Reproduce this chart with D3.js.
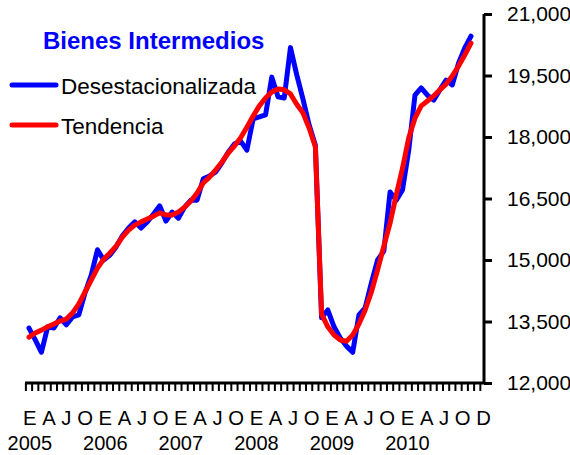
<!DOCTYPE html>
<html>
<head>
<meta charset="utf-8">
<script src="https://cdn.jsdelivr.net/npm/d3@7/dist/d3.min.js"></script>
<style>
  html, body { margin: 0; padding: 0; background: #fff; }
  svg { display: block; font-family: "Liberation Sans", Arial, sans-serif; }
</style>
</head>
<body>
<svg id="chart" width="570" height="455"></svg>
<script>
// ---- Data ----
const years = ["2005", "2006", "2007", "2008", "2009", "2010"];
const months = [];
years.forEach(y => { for (let m = 1; m <= 12; m++) months.push(y + "-" + String(m).padStart(2, "0")); });

const quarterLabels = ["E","A","J","O","E","A","J","O","E","A","J","O","E","A","J","O","E","A","J","O","E","A","J","O","D"];
const yTicks = [12000, 13500, 15000, 16500, 18000, 19500, 21000];

const desestacionalizada = [
  13340, 13050, 12750, 13370, 13340, 13590, 13420, 13610, 13660, 14200, 14630, 15250,
  15000, 15120, 15320, 15590, 15780, 15930, 15780, 15930, 16120, 16320, 15950, 16170,
  16020, 16290, 16460, 16460, 16980, 17050, 17150, 17370, 17630, 17830, 17900, 17680,
  18440, 18490, 18540, 19460, 18980, 18950, 20180, 19520, 18930, 18290, 17800, 13590,
  13780, 13370, 13100, 12900, 12750, 13660, 13830, 14440, 15000, 15220, 16660, 16460,
  16710, 17680, 19020, 19200, 19020, 18900, 19150, 19390, 19270, 19800, 20170, 20460
];
const tendencia = [
  13120, 13220, 13290, 13370, 13440, 13510, 13560, 13710, 13930, 14220, 14510, 14800,
  15020, 15170, 15340, 15560, 15730, 15850, 15930, 16000, 16070, 16150, 16100, 16100,
  16170, 16290, 16440, 16630, 16880, 17020, 17200, 17390, 17610, 17780, 17980, 18240,
  18510, 18760, 18950, 19100, 19170, 19150, 19050, 18800, 18590, 18220, 17760, 13680,
  13370, 13170, 13050, 13020, 13170, 13440, 13780, 14220, 14760, 15340, 15900, 16590,
  17240, 17980, 18460, 18760, 18880, 19000, 19150, 19290, 19490, 19730, 20000, 20290
];

const seriesNames = ["Desestacionalizada", "Tendencia"];
const seriesColors = ["#0000FF", "#FF0000"];
const title = "Bienes Intermedios";

// ---- Scales ----
const svg = d3.select("#chart");
const x = d3.scalePoint().domain(months).range([29, 471]);
const y = d3.scaleLinear().domain([12000, 21000]).range([383, 14]);
const step = x.step();

// ---- Axes ----
// X axis line and monthly tick marks (between categories)
const xAxisG = svg.append("g");
xAxisG.append("line")
  .attr("x1", 25).attr("x2", 485)
  .attr("y1", y(12000)).attr("y2", y(12000))
  .attr("stroke", "#000").attr("stroke-width", 3);
const tickPos = [];
for (let b = x(months[0]) - step / 2; b <= 484; b += step) tickPos.push(b);
xAxisG.selectAll("line.tk").data(tickPos).enter().append("line")
  .attr("class", "tk")
  .attr("x1", d => d).attr("x2", d => d)
  .attr("y1", y(12000)).attr("y2", y(12000) + 8)
  .attr("stroke", "#000").attr("stroke-width", 2);

// Y axis on the right
const yAxis = d3.axisRight(y).tickValues(yTicks).tickSize(8).tickPadding(15)
  .tickFormat(d3.format(","));
const yAxisG = svg.append("g").attr("transform", "translate(484,0)").call(yAxis);
yAxisG.select(".domain").attr("stroke", "#000").attr("stroke-width", 3)
  .attr("d", `M0,${y(21000)}V${y(12000)}`);
yAxisG.selectAll(".tick line").attr("stroke", "#000").attr("stroke-width", 3);
yAxisG.selectAll(".tick text")
  .attr("fill", "#000")
  .style("font-size", "21px")
  .style("font-family", "'Liberation Sans', Arial, sans-serif");

// ---- Lines ----
const line = d3.line().x((d, i) => x(months[i])).y(d => y(d));
[desestacionalizada, tendencia].forEach((s, k) => {
  svg.append("path")
    .datum(s)
    .attr("d", line)
    .attr("fill", "none")
    .attr("stroke", seriesColors[k])
    .attr("stroke-width", 5)
    .attr("stroke-linejoin", "round")
    .attr("stroke-linecap", "round");
});

// ---- X labels (quarter letters typed as a spaced row, years below) ----
const qText = svg.append("text")
  .attr("x", 23).attr("y", 425)
  .style("font-size", "20.3px")
  .attr("fill", "#000");
const tspans = [];
quarterLabels.forEach((q, i) => {
  const t = qText.append("tspan").text(q);
  tspans.push(t);
  if (i < quarterLabels.length - 1) qText.append("tspan").text("\u00a0");
});
years.forEach((yr, k) => {
  const node = tspans[k * 4].node();
  let cx = 29 + k * 76;
  try {
    const p = node.getStartPositionOfChar(0);
    cx = p.x + node.getComputedTextLength() / 2;
  } catch (e) {}
  svg.append("text")
    .attr("x", cx).attr("y", 450)
    .attr("text-anchor", "middle")
    .style("font-size", "20px")
    .attr("fill", "#000")
    .text(yr);
});

// ---- Title & legend ----
svg.append("text")
  .attr("x", 43).attr("y", 49)
  .style("font-size", "24px").style("font-weight", "bold")
  .attr("fill", "#0000FF")
  .text(title);

const legendY = [85, 125];
seriesNames.forEach((n, k) => {
  svg.append("line")
    .attr("x1", 12).attr("x2", 56)
    .attr("y1", legendY[k]).attr("y2", legendY[k])
    .attr("stroke", seriesColors[k]).attr("stroke-width", 5)
    .attr("stroke-linecap", "round");
  svg.append("text")
    .attr("x", 61).attr("y", legendY[k] + 8.5)
    .style("font-size", "22.5px")
    .attr("fill", "#000")
    .text(n);
});
</script>
</body>
</html>
